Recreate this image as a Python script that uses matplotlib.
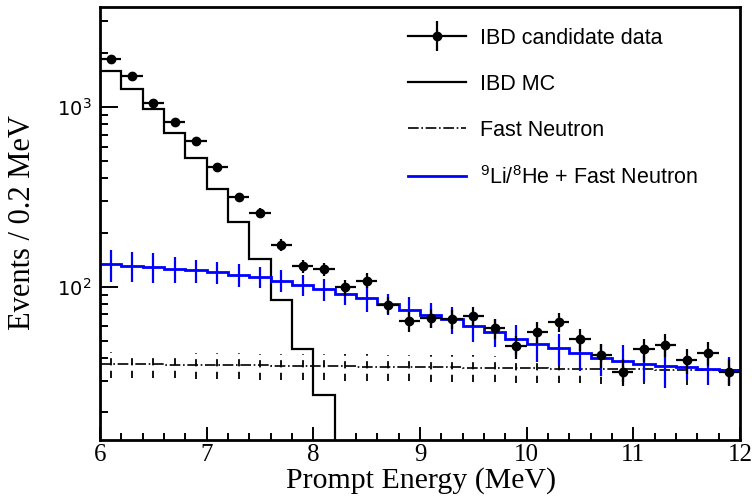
import numpy as np
import matplotlib
matplotlib.use("Agg")
import matplotlib.pyplot as plt
from matplotlib.font_manager import FontProperties
from matplotlib.lines import Line2D
from matplotlib.ticker import FixedLocator, LogLocator, MultipleLocator, LogFormatterMathtext, NullFormatter

# bin edges, 0.2 MeV wide
edges = np.round(np.arange(6.0, 12.0001, 0.2), 1)
centers = 0.5 * (edges[:-1] + edges[1:])

# IBD candidate data (events per bin)
data = [1850, 1490, 1050, 820, 650, 465, 315, 257, 171, 130,
        125, 99, 108, 79, 64, 67, 66, 69, 58.5, 46.6,
        56, 63.5, 51, 41.5, 33.6, 44.7, 47.6, 38.8, 42.8, 33.6]

# IBD MC prediction
ibd_mc = [1590, 1265, 970, 720, 517, 350, 228, 142, 84, 45,
          25, 0, 0, 0, 0, 0, 0, 0, 0, 0,
          0, 0, 0, 0, 0, 0, 0, 0, 0, 0]

# fast neutron background
fast_n = [37.0, 36.9, 36.9, 36.8, 36.7, 36.6, 36.5, 36.4, 36.3, 36.2,
          36.1, 36.0, 35.9, 35.8, 35.7, 35.6, 35.5, 35.4, 35.3, 35.2,
          35.1, 35.0, 34.9, 34.8, 34.7, 34.6, 34.5, 34.4, 34.3, 34.2]
fast_n_err = [6.0] * 30

# 9Li/8He + fast neutron
li_he = [133, 131, 129, 126, 123, 120, 116, 113, 108, 102.6,
         97, 91.5, 86, 80.5, 74.5, 69.8, 65.7, 60.2, 56, 51.4,
         48, 45.3, 42.5, 39.8, 38.6, 37.3, 36.3, 35.6, 35, 34.5]
li_he_err = [27, 25, 24, 21, 18, 17, 17, 15, 15, 14,
             13.5, 13, 14, 11, 13, 11, 11, 11, 10, 10,
             10, 9, 8.5, 8, 9, 8, 9, 5.5, 6.5, 6]

plt.rcParams['mathtext.fontset'] = 'stix'
plt.rcParams['mathtext.rm'] = 'Liberation Sans'

fig = plt.figure(figsize=(7.53, 5.03), dpi=100)
ax = fig.add_axes([100 / 753, 1 - 440 / 503, 640 / 753, 433 / 503])

lw = 1.6
mc_plot = np.where(np.array(ibd_mc) > 0, ibd_mc, 1e-3)
ax.stairs(mc_plot, edges, baseline=1e-3, color='black', lw=lw)

ax.stairs(fast_n, edges, baseline=None, color='black', lw=1.2, linestyle='-.')
eb_fn = ax.errorbar(centers, fast_n, yerr=fast_n_err, fmt='none', ecolor='black', elinewidth=1.3)
eb_fn[2][0].set_linestyle((0, (4, 3)))

ax.stairs(li_he, edges, baseline=None, color='#0000ff', lw=2.0)
ax.errorbar(centers, li_he, yerr=li_he_err, fmt='none', ecolor='#0000ff', elinewidth=1.6)

data = np.array(data)
ax.errorbar(centers, data, xerr=0.1, yerr=np.sqrt(data), fmt='o', color='black',
            ms=6, elinewidth=1.6, capsize=0)

ax.set_xlim(6, 12)
ax.set_yscale('log')
ax.set_ylim(14, 3600)

ax.xaxis.set_major_locator(MultipleLocator(1))
ax.xaxis.set_minor_locator(MultipleLocator(0.2))
ax.yaxis.set_major_locator(FixedLocator([100, 1000]))
ax.yaxis.set_major_formatter(LogFormatterMathtext())
ax.yaxis.set_minor_locator(LogLocator(base=10, subs=np.arange(2, 10)))
ax.yaxis.set_minor_formatter(NullFormatter())

ax.tick_params(axis='x', which='major', direction='in', length=9.5, width=1.4,
               labelsize=18, pad=3, top=False)
ax.tick_params(axis='x', which='minor', direction='in', length=5, width=1.4, top=False)
ax.tick_params(axis='y', which='major', direction='in', length=13, width=1.4,
               labelsize=14, pad=6, right=False)
ax.tick_params(axis='y', which='minor', direction='in', length=6, width=1.4, right=False)
for lab in ax.get_xticklabels():
    lab.set_family('Liberation Serif')
for sp in ax.spines.values():
    sp.set_linewidth(2)

fig.text(23 / 753, 1 - 222 / 503, 'Events / 0.2 MeV', rotation=90, ha='center', va='center',
         family='Liberation Serif', fontsize=22)
fig.text(421 / 753, 1 - 488 / 503, 'Prompt Energy (MeV)', ha='center', va='baseline',
         family='Liberation Serif', fontsize=21.5)

# legend
h_data = (Line2D([], [], color='black', lw=lw),
          Line2D([], [], marker='|', ls='none', color='black', ms=22, mew=1.6),
          Line2D([], [], marker='o', ls='none', color='black', ms=6))
h_mc = Line2D([], [], color='black', lw=lw)
h_fn = Line2D([], [], color='black', lw=1.2, linestyle='-.')
h_li = Line2D([], [], color='#0000ff', lw=2.0)
prop = FontProperties(family='Liberation Sans', size=15.5, math_fontfamily='custom')
ax.legend([h_data, h_mc, h_fn, h_li],
          ['IBD candidate data', 'IBD MC', 'Fast Neutron', r'$^{9}$Li/$^{8}$He + Fast Neutron'],
          loc='upper left', bbox_to_anchor=(308 / 640, 1 - 21 / 433), frameon=False,
          prop=prop, handlelength=2.7, handletextpad=0.65, labelspacing=1.16,
          borderpad=0, borderaxespad=0)

fig.savefig('out.png', dpi=100)
